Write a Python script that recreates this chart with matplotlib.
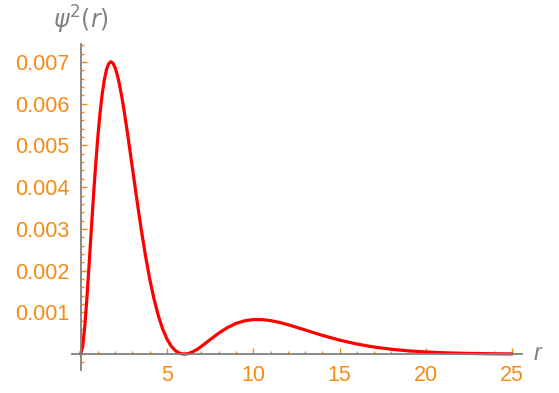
import matplotlib
matplotlib.use("Agg")
import matplotlib.pyplot as plt
from matplotlib.ticker import MultipleLocator, FixedLocator

r_vals = [0, 0.125, 0.25, 0.375, 0.5, 0.625, 0.75, 0.875, 1.0, 1.125, 1.25, 1.375, 1.5, 1.625,
          1.75, 1.875, 2.0, 2.125, 2.25, 2.375, 2.5, 2.75, 3.0, 3.25, 3.5, 3.75,
          4.0, 4.25, 4.5, 4.75, 5.0, 5.25, 5.5, 5.75, 6.0, 6.25, 6.5, 6.75, 7.0, 7.5, 8.0, 8.5,
          9.0, 9.5, 10.0, 10.5, 11.0, 11.5, 12.0, 13.0, 14.0, 15.0, 16.0, 17.0, 18.0, 19.0,
          20.0, 21.0, 22.0, 23.0, 24.0, 25.0]
psi2_vals = [0.0, 0.0002018, 0.000711, 0.001409, 0.002204, 0.003026, 0.003824, 0.004564,
             0.005220, 0.005778, 0.006231, 0.006576, 0.006817, 0.006957, 0.007005, 0.006970,
             0.006861, 0.006688, 0.006460, 0.006188, 0.005882, 0.005195, 0.004458, 0.003723,
             0.003019, 0.002376,
             0.001808, 0.001323, 0.000923, 0.000604, 0.000363, 0.000190, 0.0000786, 0.0000182,
             0.0, 0.0000154, 0.0000564, 0.0001158, 0.0001874, 0.000347, 0.000503, 0.000635,
             0.000735, 0.000799, 0.000828, 0.000828, 0.000804, 0.000762, 0.000707, 0.000580,
             0.000451, 0.000336, 0.000242, 0.000170, 0.0001166, 0.0000782, 0.0000516,
             0.0000336, 0.0000215, 0.0000136, 0.0000085, 0.0000053]
x_ticks = [5, 10, 15, 20, 25]
y_ticks = [0.001, 0.002, 0.003, 0.004, 0.005, 0.006, 0.007]
y_tick_labels = ["0.001", "0.002", "0.003", "0.004", "0.005", "0.006", "0.007"]

orange = "#F88A12"
gray = "#808080"
plt.rcParams['font.family'] = ['Liberation Sans', 'DejaVu Sans']

fig = plt.figure(figsize=(5.59, 3.93), dpi=100)
ax = fig.add_axes([72/559, 1-370/393, (522-72)/559, (370-44)/393])
ax.plot(r_vals, psi2_vals, color="red", lw=2.3, solid_capstyle="round", solid_joinstyle="round")

ax.set_xlim(-0.5, 25.57)
ax.set_ylim(-0.00038, 0.00743)
for s in ["top", "right"]:
    ax.spines[s].set_visible(False)
ax.spines["left"].set_position(("data", 0))
ax.spines["bottom"].set_position(("data", 0))
for s in ["left", "bottom"]:
    ax.spines[s].set_color(gray)
    ax.spines[s].set_linewidth(1.3)

ax.xaxis.set_major_locator(FixedLocator(x_ticks))
ax.xaxis.set_minor_locator(MultipleLocator(1))
ax.yaxis.set_major_locator(FixedLocator(y_ticks))
ax.set_yticklabels(y_tick_labels)
ax.yaxis.set_minor_locator(MultipleLocator(0.0002))
ax.tick_params(which="both", direction="in", colors=orange, labelsize=15.5)
ax.tick_params(which="major", length=4, width=1)
ax.tick_params(which="minor", length=2, width=1)
ax.tick_params(axis="x", pad=8)
ax.tick_params(axis="y", pad=8)

fig.text(81/559, 1-20/393, r"$\psi^2(r)$", color=gray, fontsize=17, ha="center", va="center")
fig.text(538/559, 1-354/393, "r", color=gray, fontsize=17, ha="center", va="center", style="italic")

fig.savefig("out.png", dpi=100)
